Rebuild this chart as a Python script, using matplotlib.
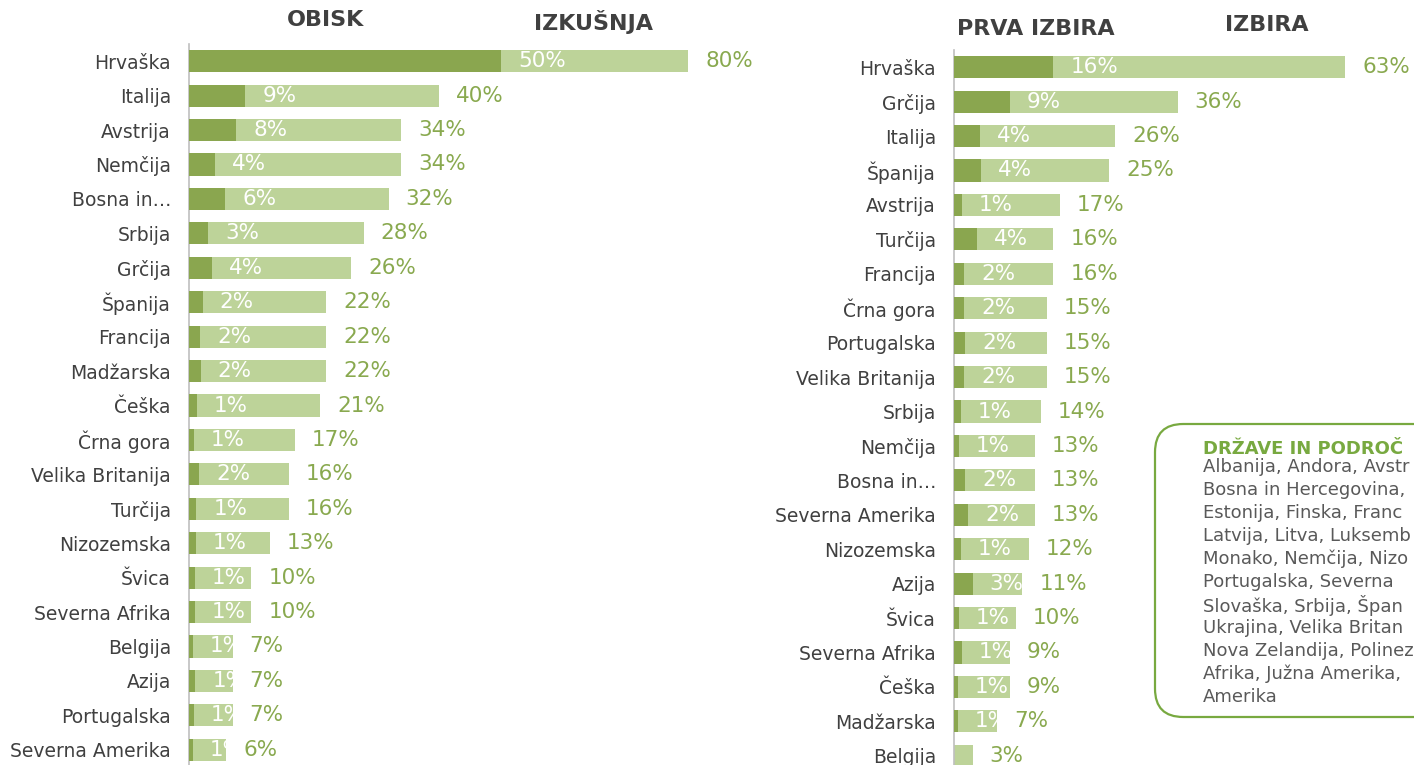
import matplotlib.pyplot as plt
from matplotlib.patches import FancyBboxPatch

# left chart: obisk (dark) inside izkušnja (light)
left_countries = ["Hrvaška", "Italija", "Avstrija", "Nemčija", "Bosna in…", "Srbija", "Grčija",
                  "Španija", "Francija", "Madžarska", "Češka", "Črna gora", "Velika Britanija",
                  "Turčija", "Nizozemska", "Švica", "Severna Afrika", "Belgija", "Azija",
                  "Portugalska", "Severna Amerika"]
obisk = [50, 9, 7.6, 4.2, 5.8, 3.1, 3.7, 2.2, 1.8, 1.9, 1.3, 0.8, 1.6, 1.2, 1.1, 0.9, 0.9,
         0.6, 1.0, 0.8, 0.6]
izkusnja = [80, 40, 34, 34, 32, 28, 26, 22, 22, 22, 21, 17, 16, 16, 13, 10, 10, 7, 7, 7, 6]

# right chart: prva izbira (dark) inside izbira (light)
right_countries = ["Hrvaška", "Grčija", "Italija", "Španija", "Avstrija", "Turčija", "Francija",
                   "Črna gora", "Portugalska", "Velika Britanija", "Srbija", "Nemčija",
                   "Bosna in…", "Severna Amerika", "Nizozemska", "Azija", "Švica",
                   "Severna Afrika", "Češka", "Madžarska", "Belgija"]
prva_izbira = [16, 9, 4.2, 4.3, 1.3, 3.7, 1.6, 1.6, 1.8, 1.6, 1.1, 0.8, 1.8, 2.3, 1.1, 3.0,
               0.8, 1.3, 0.6, 0.6, 0]
izbira = [63, 36, 26, 25, 17, 16, 16, 15, 15, 15, 14, 13, 13, 13, 12, 11, 10, 9, 9, 7, 3]

# legend text as far as it is visible in the picture (box runs off the right edge)
legend_title = "DRŽAVE IN PODROČ"
legend_lines = ["Albanija, Andora, Avstr",
                "Bosna in Hercegovina,",
                "Estonija, Finska, Franc",
                "Latvija, Litva, Luksemb",
                "Monako, Nemčija, Nizo",
                "Portugalska, Severna",
                "Slovaška, Srbija, Špan",
                "Ukrajina, Velika Britan",
                "Nova Zelandija, Polinez",
                "Afrika, Južna Amerika,",
                "Amerika"]

DARK = "#8aa64f"
LIGHT = "#bdd399"
GREEN_TXT = "#89a94f"
GRAY_TXT = "#404040"

W, H = 1414, 765
fig = plt.figure(figsize=(W / 100, H / 100), dpi=100)
fig.patch.set_facecolor("white")


def px_axes(x0, y0, x1, y1):
    # pixel box (top-left origin) -> figure axes
    return fig.add_axes([x0 / W, 1 - y1 / H, (x1 - x0) / W, (y1 - y0) / H])


def draw_panel(ax, countries, inner, outer, scale):
    n = len(countries)
    y = list(range(n))
    light = ax.barh(y, outer, height=0.64, color=LIGHT, zorder=2)
    ax.barh(y, inner, height=0.64, color=DARK, zorder=3)
    off = 17 / scale
    for i in range(n):
        if inner[i] > 0:
            t = ax.text(inner[i] + off, i, f"{inner[i]:.0f}%", color="white", fontsize=15.5,
                        va="center", ha="left", zorder=4)
            t.set_clip_path(light[i])
        ax.text(outer[i] + off, i, f"{outer[i]:.0f}%", color=GREEN_TXT, fontsize=15.5,
                va="center", ha="left", zorder=4, clip_on=False)
    ax.set_ylim(n - 0.5, -0.5)
    ax.set_yticks(y)
    ax.set_yticklabels(countries, fontsize=13.5, color=GRAY_TXT)
    ax.tick_params(axis="y", length=0, pad=13)
    ax.set_xticks([])
    for s in ["top", "right", "bottom"]:
        ax.spines[s].set_visible(False)
    ax.spines["left"].set_color("#bfbfbf")
    ax.spines["left"].set_linewidth(1.2)
    ax.set_facecolor("none")


# left panel: spine at x=189, 6.24 px per percent
ax1 = px_axes(189, 44, 780, 767)
ax1.set_xlim(0, (780 - 189) / 6.24)
draw_panel(ax1, left_countries, obisk, izkusnja, 6.24)

# right panel: spine at x=954, 6.21 px per percent
ax2 = px_axes(954, 50, 1414, 773)
ax2.set_xlim(0, (1414 - 954) / 6.21)
draw_panel(ax2, right_countries, prva_izbira, izbira, 6.21)

# column headers
for x, y, s in [(326, 20, "OBISK"), (593, 22, "IZKUŠNJA"), (1036, 29, "PRVA IZBIRA"),
                (1267, 25, "IZBIRA")]:
    fig.text(x / W, 1 - y / H, s, ha="center", va="center", fontsize=16,
             fontweight="bold", color=GRAY_TXT)

# legend box with the list of countries
box = FancyBboxPatch((1155 / W, 1 - 717 / H), 300 / W, 293 / H,
                     boxstyle="round,pad=0,rounding_size=0.02",
                     transform=fig.transFigure, facecolor="white", edgecolor="#78a940",
                     linewidth=1.6, mutation_aspect=W / H)
fig.patches.append(box)
fig.text(1203 / W, 1 - 449 / H, legend_title, ha="left", va="center", fontsize=13,
         fontweight="bold", color="#78a940")
for k, line in enumerate(legend_lines):
    fig.text(1203 / W, 1 - (467 + 23 * k) / H, line, ha="left", va="center", fontsize=13,
             color="#595959")

fig.savefig("out.png", dpi=100)
